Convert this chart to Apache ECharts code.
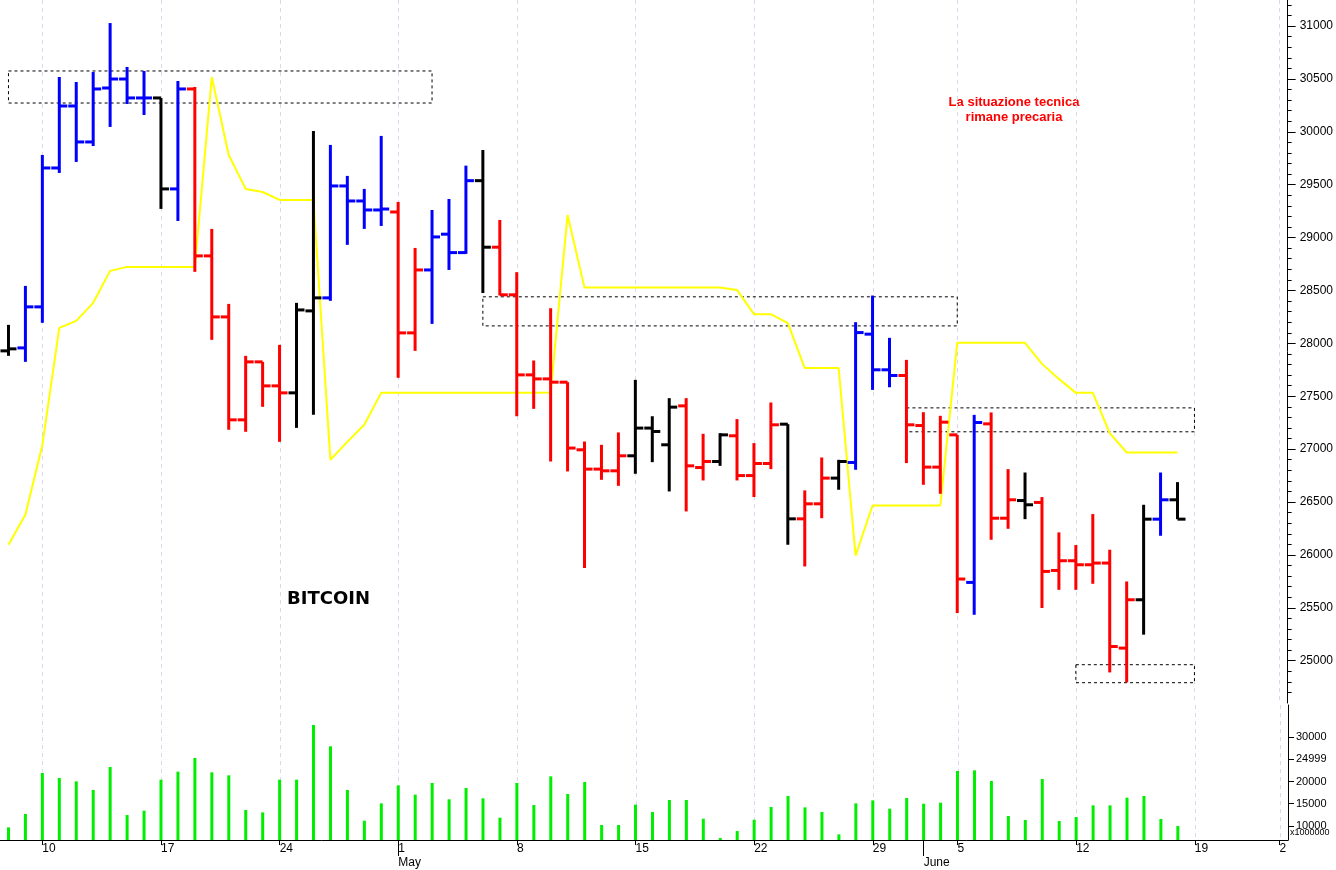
<!DOCTYPE html>
<html><head><meta charset="utf-8">
<script src="https://cdn.jsdelivr.net/npm/echarts@6/dist/echarts.min.js"></script>
<style>html,body{margin:0;padding:0;background:#fff}#c{width:1336px;height:870px}</style>
</head><body><div id="c"></div>
<script>
// OHLC bars (index 0 = Apr 8)
const opens  = [27929,27957,28345,29658,30244,29904,30414,30499,30320,30320,29460,30405,28827,28250,27277,27825,27598,27532,28307,28430,29488,29346,29261,29242,28099,28694,29032,28858,29538,28909,28459,27702,27664,27633,26994,26811,26795,26937,27199,27041,27409,26826,26883,27126,26750,26864,27236,26341,26483,26726,26874,28087,27750,27696,27223,26830,27135,25740,27239,26347,26514,26496,25853,25945,25907,25923,25119,25576,26338,26521];
const closes = [27948,28345,29658,30244,29904,30405,30499,30320,30320,29460,30405,28827,28250,27277,27825,27598,27532,28316,28430,29488,29346,29261,29270,28099,28694,29006,28858,29538,28909,28459,27702,27664,27633,27010,26811,26795,26937,27199,27167,27397,26842,26883,27135,26750,26864,27230,26341,26483,26726,26883,28102,27750,27696,27230,26830,27255,25772,27252,26347,26521,26474,25844,25945,25907,25923,25134,25576,26338,26521,26338];
const lows   = [27882,27825,28194,29611,29715,29866,30046,30263,30159,29271,29157,28676,28033,27183,27164,27400,27069,27201,27324,28402,28931,29082,29110,27674,27929,28184,28694,28846,28476,28453,27311,27381,26883,26789,25876,26710,26653,26767,26877,26600,26411,26704,26842,26704,26547,26811,26096,25891,26347,26616,26805,27560,27585,26868,26663,26578,25450,25434,26143,26247,26338,25498,25670,25670,25727,24889,24795,25246,26181,26338];
const highs  = [28175,28543,29781,30518,30471,30565,31028,30613,30575,30320,30480,30424,29082,28373,27882,27825,27986,28383,30008,29876,29583,29460,29961,29337,28902,29261,29365,29680,29828,29167,28673,27838,28332,27633,27072,27041,27158,27655,27311,27482,27482,27145,27151,27284,27057,27441,27236,26610,26921,26899,28200,28452,28052,27844,27349,27315,27135,27324,27347,26811,26779,26547,26213,26093,26386,26049,25749,26474,26779,26688];
// bar colour signal: u = up (blue), d = down (red), n = neutral (black)
const signals = "nuuuuuuuunuddddddnnuuuudduuunddddddddnnnddndddnddnuuudddduddnddddddnun".split('');
// yellow indicator line
const lineVals = [26096,26380,27040,28146,28212,28383,28685,28723,28723,28723,28723,28723,30518,29781,29460,29431,29356,29356,29356,26900,27069,27230,27532,27532,27532,27532,27532,27532,27532,27532,27532,27532,27536,29214,28527,28527,28527,28527,28527,28527,28527,28527,28527,28505,28276,28276,28191,27766,27766,27766,25992,26467,26467,26467,26467,26467,28005,28005,28005,28005,28005,27806,27664,27532,27532,27151,26968,26968,26968,26968];
// volume (x1000000)
const volumes = [9650,12670,21940,20800,20050,18100,23300,12440,13420,20430,22240,25330,22090,21410,13570,13040,20430,20430,32790,27970,18100,11160,15080,19150,17040,19680,15990,18550,16210,11840,19680,14700,21180,17190,19900,10180,10180,14780,13120,15830,15830,11610,7240,8820,11380,14250,16740,14170,13120,8070,15080,15760,13870,16280,15000,15230,22390,22540,20130,12210,11310,20580,11090,11990,14630,14630,16360,16740,11540,9950];
// axis tick labels by category index
const dayLabels = {2:'10',9:'17',16:'24',23:'1',30:'8',37:'15',44:'22',51:'29',56:'5',63:'12',70:'19',75:'2'};
const monthLabels = {23:'May',54:'June'};
const nCats = 76;
const cats = []; for (let i=0;i<nCats;i++) cats.push(String(i));
const priceTicks = [25000,25500,26000,26500,27000,27500,28000,28500,29000,29500,30000,30500,31000];
const volTicks = [10000,15000,20000,24999,30000];
const boxes = [[0,30575,25,30272],[28,28440,56,28165],[53,27390,70,27164],[63,24962,70,24792]];

const colorMap = {u:'#0000ff', d:'#ff0000', n:'#000000'};
const ohlc = opens.map((o,i)=>[i,o,closes[i],lows[i],highs[i]]);
const minorTicks=[]; for(let v=24700;v<=31200;v+=100) minorTicks.push(v);
const isDay = (i)=>dayLabels[i]!==undefined;
const gridIdx = Object.keys(dayLabels).map(k=>[Number(k)]);
const gridRender = (params, api)=>{
  const cs = params.coordSys; const x = Math.round(api.coord([api.value(0), 0])[0]) + 0.5;
  return {type:'line',shape:{x1:x,y1:cs.y,x2:x,y2:cs.y+cs.height},style:{stroke:'#d8d8ee',lineWidth:1,lineDash:[4,4]}};
};

const chart = echarts.init(document.getElementById('c'));
chart.setOption({
  animation:false,
  grid:[{left:0,right:48,top:0,bottom:167},{left:0,right:48,top:705,bottom:30}],
  xAxis:[
    {type:'category',data:cats,gridIndex:0,boundaryGap:true,axisLine:{show:false},axisTick:{show:false},axisLabel:{show:false},splitLine:{show:false}},
    {type:'category',data:cats,gridIndex:1,boundaryGap:true,axisLine:{show:true,lineStyle:{color:'#000'}},
     axisTick:{show:true,alignWithLabel:true,interval:isDay,length:5,lineStyle:{color:'#000'}},
     axisLabel:{interval:isDay,formatter:(v,i)=>dayLabels[i]||'',align:'left',margin:3,fontSize:12,color:'#000',fontFamily:'Liberation Sans'},
     splitLine:{show:false}},
    {type:'category',data:cats,gridIndex:1,position:'bottom',offset:16,boundaryGap:true,axisLine:{show:false},
     axisTick:{show:true,interval:(i)=>monthLabels[i]!==undefined,alignWithLabel:true,length:-16,lineStyle:{color:'#000'}},
     axisLabel:{interval:(i)=>monthLabels[i]!==undefined,formatter:(v,i)=>monthLabels[i]||'',align:'left',margin:1,fontSize:12,color:'#000',fontFamily:'Liberation Sans'}}
  ],
  yAxis:[
    {type:'value',gridIndex:0,position:'right',min:24600,max:31246,axisLine:{show:true,lineStyle:{color:'#000'}},
     axisTick:{show:true,customValues:priceTicks,length:8,lineStyle:{color:'#000'}},
     axisLabel:{customValues:priceTicks,formatter:(v)=>String(v),color:'#000',fontSize:12,margin:12,fontFamily:'Liberation Sans'},splitLine:{show:false}},
    {type:'value',gridIndex:0,position:'right',min:24600,max:31246,axisLine:{show:false},
     axisTick:{show:true,customValues:minorTicks,length:4,lineStyle:{color:'#000'}},axisLabel:{show:false},splitLine:{show:false}},
    {type:'value',gridIndex:1,position:'right',min:6800,max:37300,axisLine:{show:true,lineStyle:{color:'#000'}},
     axisTick:{show:true,customValues:volTicks,length:6,lineStyle:{color:'#000'}},
     axisLabel:{customValues:volTicks,formatter:(v)=>String(v),color:'#000',fontSize:11,margin:8,fontFamily:'Liberation Sans'},splitLine:{show:false}}
  ],
  series:[
    {type:'custom',xAxisIndex:0,yAxisIndex:0,data:gridIdx,encode:{x:0},z:0,silent:true,clip:false,renderItem:gridRender},
    {type:'custom',xAxisIndex:1,yAxisIndex:2,data:gridIdx,encode:{x:0},z:0,silent:true,clip:false,renderItem:gridRender},
    {type:'custom',xAxisIndex:0,yAxisIndex:0,data:ohlc,encode:{x:0,y:[1,2,3,4]},z:3,
     renderItem:(params,api)=>{
       const i=api.value(0);
       const pO=api.coord([i,api.value(1)]), pC=api.coord([i,api.value(2)]);
       const pL=api.coord([i,api.value(3)]), pH=api.coord([i,api.value(4)]);
       const st={stroke:colorMap[signals[i]],lineWidth:3};
       return {type:'group',children:[
         {type:'line',shape:{x1:pH[0],y1:pH[1],x2:pL[0],y2:pL[1]},style:st},
         {type:'line',shape:{x1:pO[0]-8,y1:pO[1],x2:pO[0],y2:pO[1]},style:st},
         {type:'line',shape:{x1:pC[0],y1:pC[1],x2:pC[0]+8,y2:pC[1]},style:st}
       ]};
     }},
    {type:'line',xAxisIndex:0,yAxisIndex:0,data:lineVals,symbol:'none',lineStyle:{color:'#ffff00',width:2},z:2,
     markArea:{silent:true,itemStyle:{color:'rgba(0,0,0,0)',borderColor:'#000',borderWidth:1,borderType:[3,3]},
       data:boxes.map(b=>[{coord:[b[0],b[1]]},{coord:[b[2],b[3]]}])}},
    {type:'bar',xAxisIndex:1,yAxisIndex:2,data:volumes,barWidth:3,itemStyle:{color:'#00ee00'},z:2}
  ],
  graphic:[
    {type:'text',left:287,top:590,style:{text:'BITCOIN',font:'bold 18px "DejaVu Sans"',fill:'#000'}},
    {type:'text',x:1014,y:95,style:{text:'La situazione tecnica\nrimane precaria',font:'bold 13px "Liberation Sans"',fill:'#ff0000',align:'center',lineHeight:15}},
    {type:'text',left:1290,top:828,style:{text:'x1000000',font:'9px "Liberation Sans"',fill:'#000'}}
  ]
});
</script></body></html>
